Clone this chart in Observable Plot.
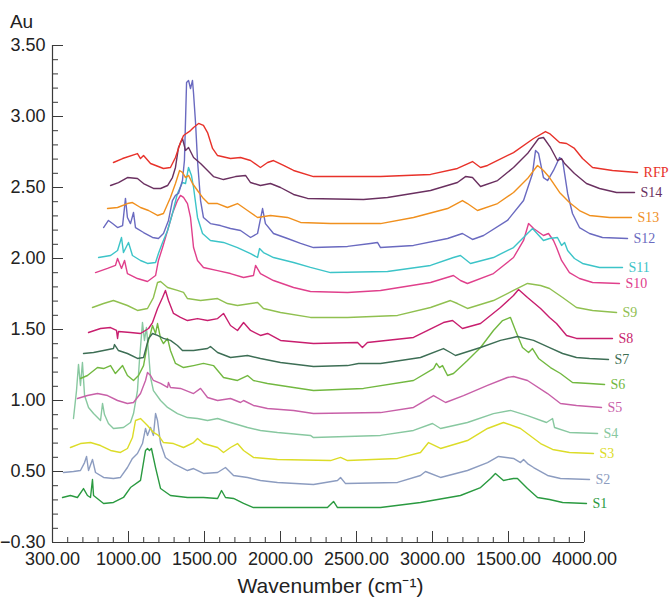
<!DOCTYPE html>
<html><head><meta charset="utf-8">
<script src="https://cdn.jsdelivr.net/npm/d3@7"></script>
<script src="https://cdn.jsdelivr.net/npm/@observablehq/plot@0.6"></script>
<style>body{margin:0;background:#fff}</style>
</head><body><div id="chart"></div>
<script>
const seriesNames = ["S1","S2","S3","S4","S5","S6","S7","S8","S9","S10","S11","S12","S13","S14","RFP"];
const seriesColors = ["#2a9a40","#8c9cc0","#dcdc28","#88c8a0","#c860a8","#72b840","#3d6e55","#c81e6e","#90c050","#e0408c","#3cc4c8","#6a6ac0","#f0901e","#6a3060","#e8322a"];
const xTickValues = [500,1000,1500,2000,2500,3000,3500,4000];
const xTickLabels = ["300.00","1000.00","1500.00","2000.00","2500.00","3000.00","1500.00","4000.00"];
const yTickValues = [0,0.5,1,1.5,2,2.5,3,3.5];
const yTickLabels = ["\u22120.30","0.50","1.00","1.50","2.00","2.50","3.00","3.50"];
const xTitle = "Wavenumber (cm\u207B\u00B9)";
const yTitle = "Au";

const s1 = [[566,0.317],[618,0.331],[664,0.317],[704,0.380],[730,0.331],[750,0.317],[763,0.444],[770,0.331],[836,0.275],[901,0.282],[967,0.317],[1013,0.387],[1079,0.437],[1112,0.648],[1125,0.662],[1138,0.648],[1151,0.662],[1178,0.528],[1211,0.380],[1276,0.331],[1388,0.317],[1493,0.317],[1586,0.310],[1612,0.366],[1638,0.317],[1691,0.310],[1757,0.275],[1822,0.246],[2309,0.246],[2349,0.289],[2375,0.246],[2658,0.246],[2921,0.282],[3184,0.331],[3316,0.387],[3382,0.451],[3414,0.486],[3467,0.437],[3533,0.451],[3559,0.451],[3625,0.380],[3691,0.317],[3770,0.303],[3856,0.282],[4013,0.275]];
const s2 = [[572,0.493],[638,0.500],[684,0.507],[711,0.563],[724,0.606],[737,0.507],[763,0.585],[783,0.493],[836,0.458],[901,0.451],[947,0.458],[993,0.528],[1026,0.592],[1059,0.627],[1092,0.697],[1112,0.803],[1125,0.754],[1145,0.810],[1164,0.754],[1178,0.908],[1191,0.859],[1211,0.697],[1243,0.599],[1296,0.556],[1388,0.507],[1428,0.521],[1493,0.486],[1586,0.493],[1638,0.528],[1691,0.472],[1783,0.458],[1868,0.437],[1980,0.423],[2217,0.408],[2375,0.437],[2395,0.458],[2428,0.415],[2770,0.423],[2921,0.472],[2954,0.500],[3053,0.458],[3230,0.507],[3362,0.563],[3434,0.606],[3533,0.592],[3579,0.563],[3599,0.585],[3625,0.556],[3665,0.528],[3757,0.472],[3842,0.451],[4033,0.444]];
const s3 = [[618,0.669],[684,0.697],[750,0.704],[816,0.683],[882,0.648],[947,0.634],[993,0.662],[1026,0.739],[1046,0.859],[1079,0.873],[1125,0.824],[1164,0.775],[1197,0.754],[1230,0.704],[1296,0.697],[1362,0.669],[1428,0.704],[1454,0.732],[1493,0.697],[1586,0.669],[1625,0.634],[1671,0.669],[1717,0.697],[1757,0.648],[1822,0.599],[1980,0.585],[2329,0.577],[2395,0.599],[2441,0.577],[2770,0.592],[2921,0.634],[2974,0.704],[3053,0.662],[3230,0.718],[3362,0.803],[3467,0.845],[3579,0.803],[3711,0.697],[3790,0.655],[3901,0.634],[4059,0.627]];
const s4 = [[638,0.873],[658,1.070],[671,1.254],[684,1.106],[697,1.268],[711,1.035],[737,0.951],[770,0.908],[816,0.859],[829,0.979],[842,0.901],[868,0.838],[901,0.803],[967,0.810],[1013,0.845],[1033,0.908],[1059,1.070],[1072,1.282],[1092,1.549],[1105,1.423],[1118,1.514],[1132,1.338],[1145,1.162],[1164,1.070],[1211,1.000],[1257,0.951],[1322,0.908],[1388,0.880],[1454,0.873],[1520,0.859],[1586,0.873],[1671,0.845],[1783,0.810],[1868,0.789],[1980,0.775],[2197,0.754],[2217,0.739],[2658,0.754],[2875,0.789],[3000,0.838],[3053,0.803],[3230,0.845],[3401,0.908],[3513,0.930],[3625,0.894],[3750,0.845],[3790,0.873],[3803,0.810],[3901,0.775],[4086,0.768]];
const s5 = [[664,1.014],[730,1.035],[796,1.049],[862,1.035],[928,1.000],[993,0.979],[1033,0.986],[1079,1.049],[1112,1.141],[1125,1.197],[1145,1.176],[1164,1.141],[1211,1.120],[1257,1.092],[1263,1.127],[1276,1.092],[1342,1.085],[1428,1.049],[1474,1.085],[1520,1.021],[1586,1.000],[1671,1.014],[1737,0.986],[1757,1.000],[1822,0.965],[1914,0.944],[2086,0.930],[2217,0.908],[2658,0.915],[2875,0.951],[3007,1.035],[3086,0.986],[3204,1.035],[3362,1.106],[3493,1.162],[3533,1.169],[3625,1.141],[3757,1.049],[3842,0.979],[3947,0.965],[4112,0.951]];
const s6 = [[684,1.155],[730,1.176],[796,1.232],[836,1.225],[882,1.246],[914,1.190],[961,1.246],[993,1.176],[1033,1.141],[1066,1.176],[1099,1.246],[1125,1.401],[1145,1.472],[1158,1.528],[1178,1.472],[1191,1.542],[1211,1.437],[1230,1.401],[1257,1.437],[1276,1.352],[1309,1.261],[1362,1.232],[1428,1.246],[1493,1.261],[1559,1.246],[1625,1.162],[1717,1.141],[1783,1.176],[1822,1.141],[1914,1.120],[2086,1.092],[2217,1.070],[2546,1.085],[2875,1.141],[3007,1.225],[3026,1.261],[3046,1.232],[3066,1.246],[3099,1.176],[3138,1.190],[3230,1.282],[3316,1.373],[3401,1.493],[3461,1.563],[3493,1.577],[3513,1.585],[3546,1.493],[3592,1.373],[3632,1.338],[3658,1.366],[3698,1.296],[3776,1.232],[3842,1.190],[3921,1.127],[4033,1.120],[4132,1.113]];
const s7 = [[704,1.331],[770,1.338],[836,1.352],[901,1.366],[908,1.394],[934,1.352],[993,1.331],[1059,1.296],[1099,1.303],[1132,1.437],[1158,1.472],[1191,1.458],[1230,1.437],[1276,1.423],[1322,1.387],[1355,1.352],[1428,1.352],[1520,1.366],[1539,1.380],[1586,1.338],[1671,1.303],[1783,1.317],[1868,1.296],[2000,1.268],[2217,1.239],[2441,1.246],[2513,1.261],[2658,1.261],[2921,1.303],[3072,1.366],[3118,1.338],[3151,1.317],[3316,1.373],[3447,1.423],[3559,1.451],[3665,1.423],[3770,1.373],[3856,1.331],[3947,1.303],[4033,1.296],[4158,1.289]];
const s8 = [[737,1.479],[816,1.507],[882,1.514],[921,1.493],[928,1.437],[934,1.486],[1013,1.479],[1079,1.472],[1132,1.507],[1158,1.549],[1191,1.648],[1224,1.725],[1243,1.775],[1263,1.704],[1296,1.613],[1342,1.585],[1388,1.563],[1454,1.577],[1520,1.563],[1586,1.577],[1625,1.613],[1671,1.528],[1717,1.493],[1757,1.549],[1803,1.493],[1868,1.458],[1915,1.472],[2000,1.423],[2217,1.401],[2507,1.408],[2539,1.373],[2572,1.408],[2875,1.444],[3072,1.549],[3132,1.563],[3197,1.507],[3316,1.542],[3447,1.655],[3533,1.739],[3566,1.782],[3625,1.725],[3711,1.648],[3770,1.585],[3816,1.542],[3882,1.458],[3947,1.437],[4033,1.437],[4184,1.437]];
const s9 = [[763,1.655],[836,1.683],[901,1.704],[993,1.669],[1059,1.634],[1125,1.648],[1164,1.725],[1191,1.831],[1211,1.838],[1257,1.796],[1322,1.775],[1362,1.761],[1388,1.718],[1474,1.704],[1586,1.718],[1651,1.683],[1717,1.669],[1849,1.690],[1888,1.648],[2000,1.620],[2197,1.585],[2441,1.585],[2770,1.599],[2987,1.655],[3118,1.704],[3164,1.683],[3230,1.648],[3401,1.704],[3533,1.775],[3625,1.824],[3711,1.810],[3770,1.789],[3856,1.725],[3947,1.655],[4053,1.634],[4211,1.620]];
const s10 = [[783,1.901],[862,1.930],[914,1.951],[928,2.000],[954,1.930],[974,1.986],[993,1.894],[1059,1.859],[1125,1.838],[1178,1.880],[1197,1.986],[1224,2.077],[1257,2.197],[1289,2.317],[1322,2.408],[1342,2.444],[1362,2.430],[1388,2.387],[1408,2.289],[1428,2.077],[1454,1.986],[1493,1.937],[1586,1.915],[1671,1.894],[1757,1.866],[1822,1.880],[1836,1.951],[1868,1.894],[1954,1.845],[2086,1.796],[2197,1.768],[2441,1.761],[2658,1.775],[2987,1.831],[3138,1.880],[3184,1.845],[3230,1.824],[3401,1.894],[3533,2.007],[3599,2.127],[3632,2.246],[3665,2.211],[3730,2.162],[3763,2.176],[3796,2.127],[3816,2.077],[3849,1.986],[3901,1.901],[3967,1.859],[4053,1.831],[4230,1.824]];
const s11 = [[803,2.007],[882,2.021],[928,2.056],[954,2.148],[967,2.042],[1000,2.113],[1026,2.021],[1079,1.986],[1125,1.965],[1178,1.972],[1197,2.035],[1224,2.113],[1257,2.197],[1289,2.317],[1322,2.458],[1355,2.535],[1375,2.528],[1395,2.641],[1414,2.585],[1428,2.500],[1454,2.289],[1487,2.176],[1539,2.127],[1625,2.113],[1717,2.077],[1803,2.035],[1849,2.007],[1862,2.070],[1888,2.042],[1954,2.007],[2086,1.972],[2197,1.937],[2329,1.901],[2704,1.908],[2987,1.951],[3138,2.007],[3184,2.021],[3250,1.965],[3401,2.007],[3533,2.077],[3625,2.176],[3658,2.211],[3730,2.127],[3770,2.141],[3822,2.148],[3849,2.092],[3869,2.113],[3889,2.056],[3934,2.000],[3987,1.965],[4099,1.937],[4250,1.937]];
const s12 = [[836,2.218],[868,2.268],[895,2.246],[928,2.218],[961,2.232],[980,2.423],[993,2.289],[1013,2.246],[1033,2.324],[1046,2.218],[1099,2.183],[1158,2.148],[1197,2.141],[1230,2.176],[1263,2.268],[1289,2.408],[1309,2.444],[1329,2.458],[1355,2.549],[1368,2.690],[1382,3.239],[1395,3.254],[1408,3.197],[1421,3.254],[1428,3.162],[1441,2.958],[1454,2.690],[1474,2.408],[1493,2.289],[1539,2.246],[1605,2.232],[1671,2.211],[1737,2.197],[1803,2.148],[1849,2.176],[1882,2.352],[1901,2.246],[1954,2.176],[2046,2.141],[2132,2.106],[2217,2.077],[2441,2.085],[2592,2.106],[2638,2.113],[2658,2.077],[2875,2.092],[3099,2.141],[3197,2.176],[3263,2.134],[3336,2.162],[3493,2.268],[3599,2.408],[3658,2.599],[3678,2.761],[3698,2.739],[3730,2.570],[3757,2.549],[3796,2.620],[3836,2.711],[3856,2.690],[3889,2.458],[3921,2.317],[3967,2.218],[4033,2.176],[4118,2.148],[4283,2.141]];
const s13 = [[862,2.352],[928,2.359],[993,2.387],[1026,2.394],[1079,2.359],[1132,2.338],[1191,2.303],[1230,2.317],[1276,2.430],[1309,2.528],[1336,2.620],[1355,2.606],[1375,2.570],[1395,2.585],[1421,2.528],[1454,2.479],[1487,2.430],[1526,2.387],[1586,2.387],[1651,2.359],[1717,2.387],[1783,2.338],[1849,2.289],[1934,2.303],[2046,2.289],[2132,2.254],[2329,2.246],[2658,2.246],[2875,2.289],[3099,2.352],[3197,2.408],[3230,2.387],[3296,2.338],[3428,2.387],[3533,2.465],[3625,2.563],[3691,2.655],[3730,2.620],[3770,2.570],[3836,2.465],[3901,2.394],[3967,2.338],[4033,2.303],[4165,2.289],[4309,2.289]];
const s14 = [[882,2.514],[934,2.535],[993,2.570],[1059,2.563],[1099,2.528],[1164,2.493],[1211,2.493],[1257,2.514],[1289,2.570],[1309,2.641],[1329,2.782],[1355,2.845],[1375,2.761],[1395,2.782],[1428,2.711],[1474,2.669],[1520,2.620],[1559,2.577],[1625,2.556],[1704,2.577],[1770,2.585],[1803,2.535],[1868,2.514],[1934,2.528],[2000,2.500],[2086,2.451],[2178,2.423],[2546,2.415],[2704,2.430],[2987,2.479],[3164,2.535],[3217,2.577],[3263,2.570],[3316,2.507],[3428,2.549],[3533,2.641],[3625,2.739],[3698,2.845],[3730,2.852],[3776,2.782],[3822,2.690],[3849,2.704],[3869,2.669],[3934,2.599],[4013,2.528],[4099,2.493],[4211,2.465],[4329,2.465]];
const rfp = [[901,2.676],[961,2.704],[1059,2.739],[1079,2.704],[1099,2.725],[1145,2.669],[1230,2.634],[1276,2.641],[1309,2.711],[1342,2.817],[1362,2.866],[1408,2.901],[1428,2.923],[1461,2.951],[1493,2.937],[1520,2.887],[1553,2.775],[1586,2.725],[1671,2.704],[1737,2.711],[1803,2.690],[1868,2.641],[1915,2.676],[1954,2.690],[2020,2.655],[2086,2.620],[2217,2.577],[2658,2.577],[2987,2.592],[3164,2.634],[3263,2.683],[3316,2.641],[3362,2.655],[3533,2.746],[3665,2.845],[3743,2.894],[3770,2.880],[3836,2.817],[3882,2.810],[3934,2.775],[3987,2.704],[4053,2.641],[4184,2.620],[4349,2.606]];

const seriesValues = [s1,s2,s3,s4,s5,s6,s7,s8,s9,s10,s11,s12,s13,s14,rfp];
const points = seriesValues.flatMap((arr, i) => arr.map(([x, y]) => ({name: seriesNames[i], x, y})));
const ends = seriesValues.map((arr, i) => ({name: seriesNames[i], x: arr[arr.length-1][0], y: arr[arr.length-1][1]}));

const yMinor = d3.range(0, 35).map(i => i / 10).filter(v => !yTickValues.some(t => Math.abs(t - v) < 1e-9));
const xMinor = d3.range(500, 4001, 100).filter(v => !xTickValues.includes(v));

const W = 669, H = 607, mL = 52, mR = 85, mT = 45, mB = 65;
const frameW = W - mL - mR, frameH = H - mT - mB;
const axisColor = "#3a3a3a";

const chart = Plot.plot({
  width: W, height: H,
  marginLeft: mL, marginRight: mR, marginTop: mT, marginBottom: mB,
  x: {domain: [500, 4000]},
  y: {domain: [0, 3.5]},
  color: {domain: seriesNames, range: seriesColors},
  style: {fontFamily: "'Liberation Sans', Arial, sans-serif", background: "#fff", overflow: "visible", color: "#222"},
  marks: [
    Plot.gridY(yMinor, {stroke: axisColor, strokeOpacity: 1, insetRight: frameW - 6}),
    Plot.gridY(yTickValues, {stroke: axisColor, strokeOpacity: 1, insetRight: frameW - 11}),
    Plot.gridX(xMinor, {stroke: axisColor, strokeOpacity: 1, insetTop: frameH - 5}),
    Plot.gridX(xTickValues, {stroke: axisColor, strokeOpacity: 1, insetTop: frameH - 11}),
    Plot.ruleX([500], {stroke: axisColor, strokeWidth: 1.2}),
    Plot.ruleY([0], {stroke: axisColor, strokeWidth: 1.2}),
    Plot.axisY({ticks: yTickValues, tickSize: 0, tickPadding: 7, fontSize: 18, label: null,
      tickFormat: d => yTickLabels[yTickValues.indexOf(d)]}),
    Plot.axisX({ticks: xTickValues, tickSize: 0, tickPadding: 10, fontSize: 18, label: null,
      tickFormat: d => xTickLabels[xTickValues.indexOf(d)]}),
    Plot.line(points, {x: "x", y: "y", z: "name", stroke: "name", strokeWidth: 1.4}),
    Plot.text(ends, {x: "x", y: "y", text: "name", fill: "name", dx: 6, textAnchor: "start",
      fontSize: 14, fontFamily: "'Liberation Serif', 'DejaVu Serif', serif"}),
    Plot.text([yTitle], {text: d => d, frameAnchor: "top-left", dx: -31, dy: -31, fontSize: 19, textAnchor: "middle"}),
    Plot.text([xTitle], {text: d => d, frameAnchor: "bottom", dx: 12, dy: 50, fontSize: 21})
  ]
});
document.getElementById("chart").appendChild(chart);
</script>
</body></html>
